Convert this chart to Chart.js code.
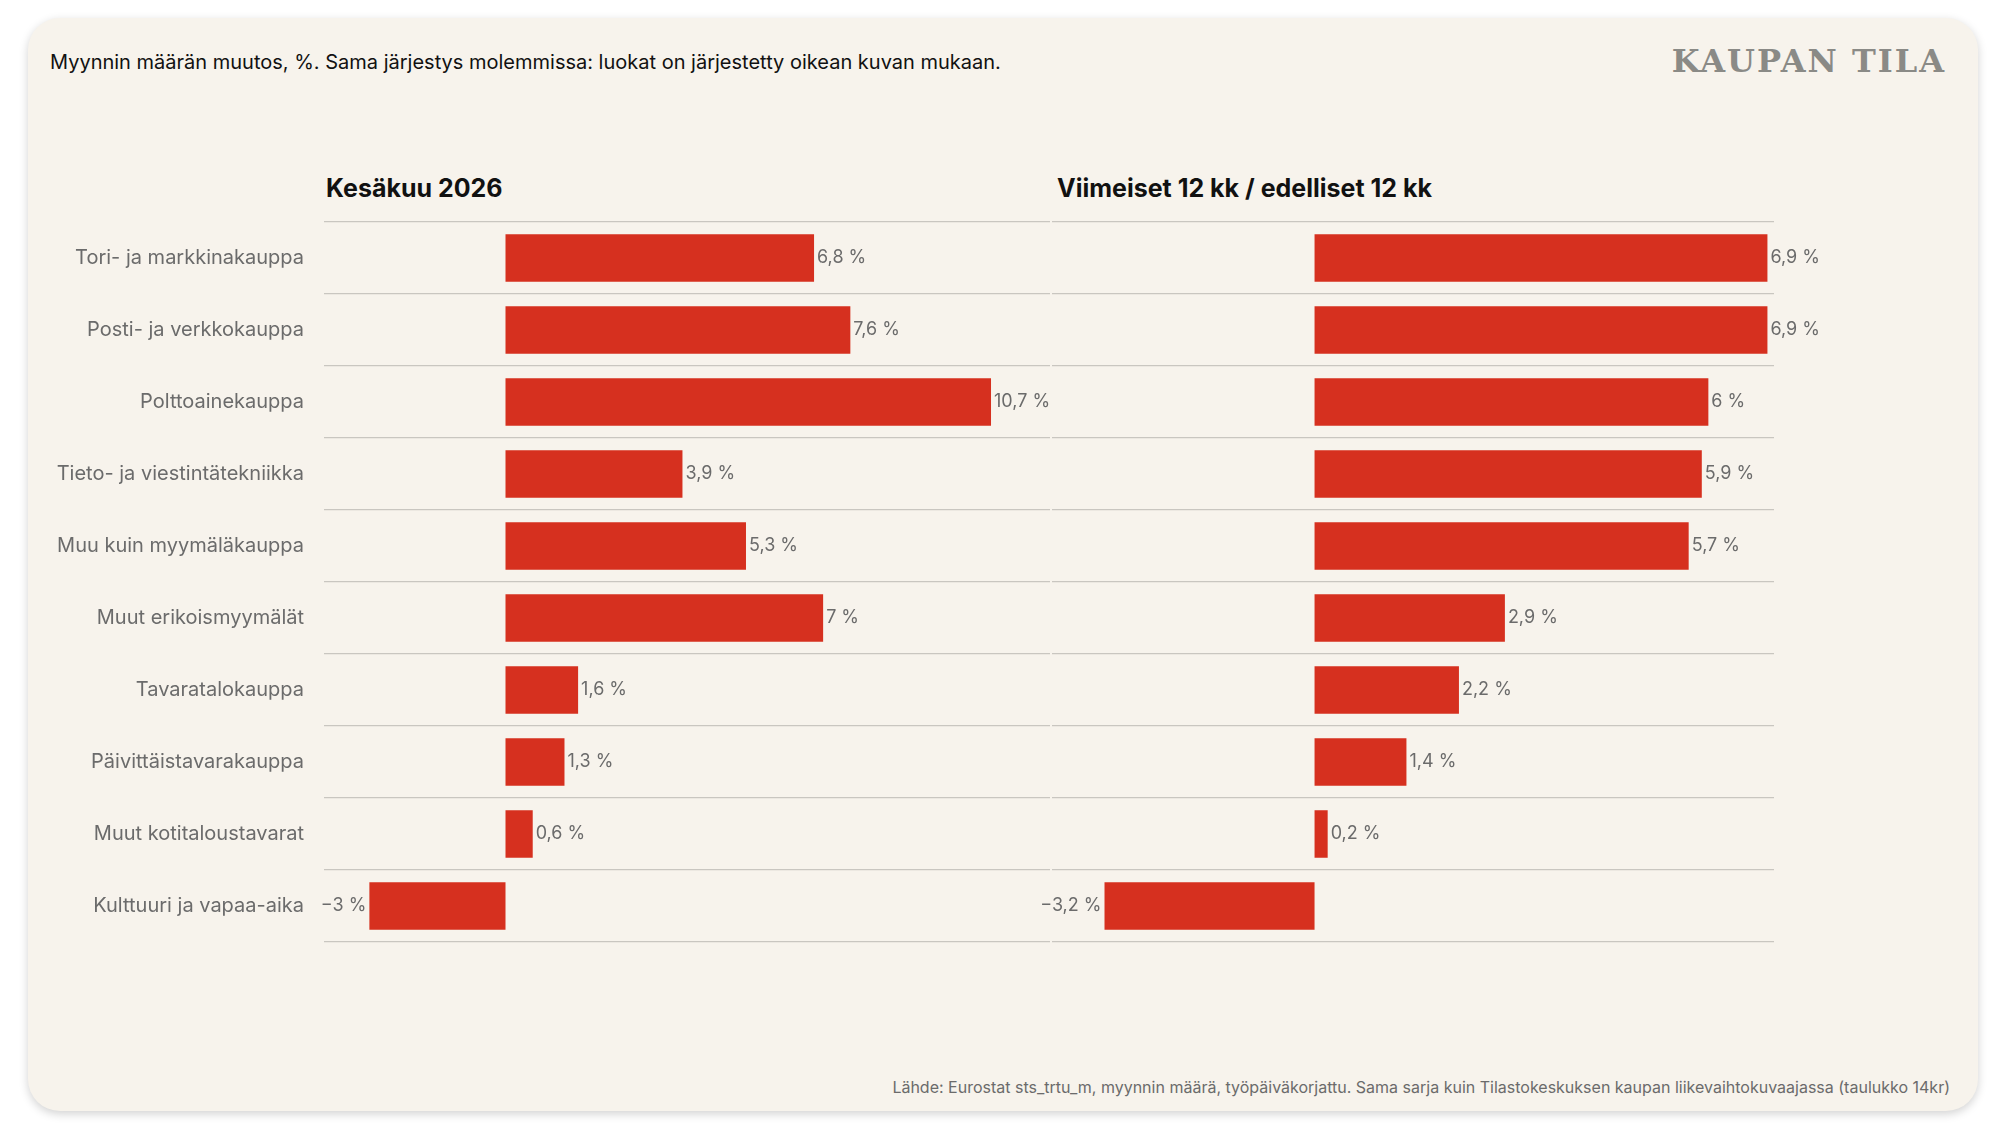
<!DOCTYPE html>
<html lang="fi">
<head>
<meta charset="UTF-8" />
<title>Kaupan tila</title>
<script src="https://cdn.jsdelivr.net/npm/chart.js"></script>
<style>
  html, body { margin: 0; background: #ffffff; width: 2000px; height: 1124px; overflow: hidden; font-family: Inter, "Noto Sans", sans-serif; }
  .card { position: absolute; left: 28px; top: 18px; width: 1950px; height: 1093px; background: #f7f3ec; border-radius: 32px; box-shadow: 0 3px 10px rgba(0,0,0,0.18); }
  .sub { position: absolute; left: 50px; top: 50px; font-size: 20px; color: #111; }
  .brand { position: absolute; right: 54px; top: 42px; font-family: "DejaVu Serif", "Liberation Serif", serif; font-weight: bold; font-size: 32px; letter-spacing: 2px; color: #8a8a86; }
  .ptitle { position: absolute; top: 173px; font-size: 25px; font-weight: 700; color: #111; }
  .src { position: absolute; right: 50px; top: 1077px; font-size: 16px; color: #6b6b6b; }
  canvas { position: absolute; }
</style>
</head>
<body>
  <div class="card"></div>
  <div class="sub">Myynnin määrän muutos, %. Sama järjestys molemmissa: luokat on järjestetty oikean kuvan mukaan.</div>
  <div class="brand">KAUPAN TILA</div>
  <div class="ptitle" style="left:326px;">Kesäkuu 2026</div>
  <div class="ptitle" style="left:1057px;">Viimeiset 12 kk / edelliset 12 kk</div>
  <div class="src">Lähde: Eurostat sts_trtu_m, myynnin määrä, työpäiväkorjattu. Sama sarja kuin Tilastokeskuksen kaupan liikevaihtokuvaajassa (taulukko 14kr)</div>
  <div style="position:absolute;left:20px;top:190px;width:1030px;height:784px;"><canvas id="left"></canvas></div>
  <div style="position:absolute;left:986px;top:190px;width:900px;height:784px;"><canvas id="right"></canvas></div>

<script>
const categories = [
  'Tori- ja markkinakauppa', 'Posti- ja verkkokauppa', 'Polttoainekauppa',
  'Tieto- ja viestintätekniikka', 'Muu kuin myymäläkauppa', 'Muut erikoismyymälät',
  'Tavaratalokauppa', 'Päivittäistavarakauppa', 'Muut kotitaloustavarat', 'Kulttuuri ja vapaa-aika'
];
const juneValues = [6.8, 7.6, 10.7, 3.9, 5.3, 7.0, 1.6, 1.3, 0.6, -3.0];
const yearValues = [6.9, 6.9, 6.0, 5.9, 5.7, 2.9, 2.2, 1.4, 0.2, -3.2];

const barColor = '#d6301f';
const labelGray = '#6b6b6b';

function fmt(v) {
  const s = String(Math.abs(v)).replace('.', ',');
  return (v < 0 ? '\u2212' : '') + s + ' %';
}

const valueLabels = {
  id: 'valueLabels',
  afterDatasetsDraw(chart) {
    const ctx = chart.ctx;
    const meta = chart.getDatasetMeta(0);
    const data = chart.data.datasets[0].data;
    ctx.save();
    ctx.font = '18px Inter, "Noto Sans", sans-serif';
    ctx.fillStyle = labelGray;
    ctx.textBaseline = 'middle';
    meta.data.forEach((bar, i) => {
      const v = data[i];
      if (v < 0) {
        ctx.textAlign = 'right';
        ctx.fillText(fmt(v), bar.x - 3, bar.y);
      } else {
        ctx.textAlign = 'left';
        ctx.fillText(fmt(v), bar.x + 3, bar.y);
      }
    });
    ctx.restore();
  }
};

function makeChart(id, values, xmin, xmax, showLabels, axisWidth, padLeft, padRight) {
  return new Chart(document.getElementById(id), {
    type: 'bar',
    data: {
      labels: categories,
      datasets: [{ data: values, backgroundColor: barColor, categoryPercentage: 0.66, barPercentage: 1 }]
    },
    options: {
      indexAxis: 'y',
      responsive: true,
      maintainAspectRatio: false,
      animation: false,
      layout: { padding: { top: 12, bottom: 0, left: padLeft, right: padRight } },
      plugins: { legend: { display: false }, tooltip: { enabled: false } },
      scales: {
        x: { min: xmin, max: xmax, display: false },
        y: {
          display: true,
          border: { display: false },
          grid: { color: '#c9c6c0', lineWidth: 1.3, tickLength: 0, offset: true, drawTicks: false },
          ticks: {
            color: showLabels ? labelGray : 'rgba(0,0,0,0)',
            padding: 20,
            font: { size: 20, family: 'Inter, "Noto Sans", sans-serif' }
          },
          afterFit(scale) { scale.width = axisWidth; }
        }
      }
    },
    plugins: [valueLabels]
  });
}

makeChart('left', juneValues, -4, 12, true, 304, 0, 0);
makeChart('right', yearValues, -4, 7, false, 0, 66, 112);
</script>
</body>
</html>
